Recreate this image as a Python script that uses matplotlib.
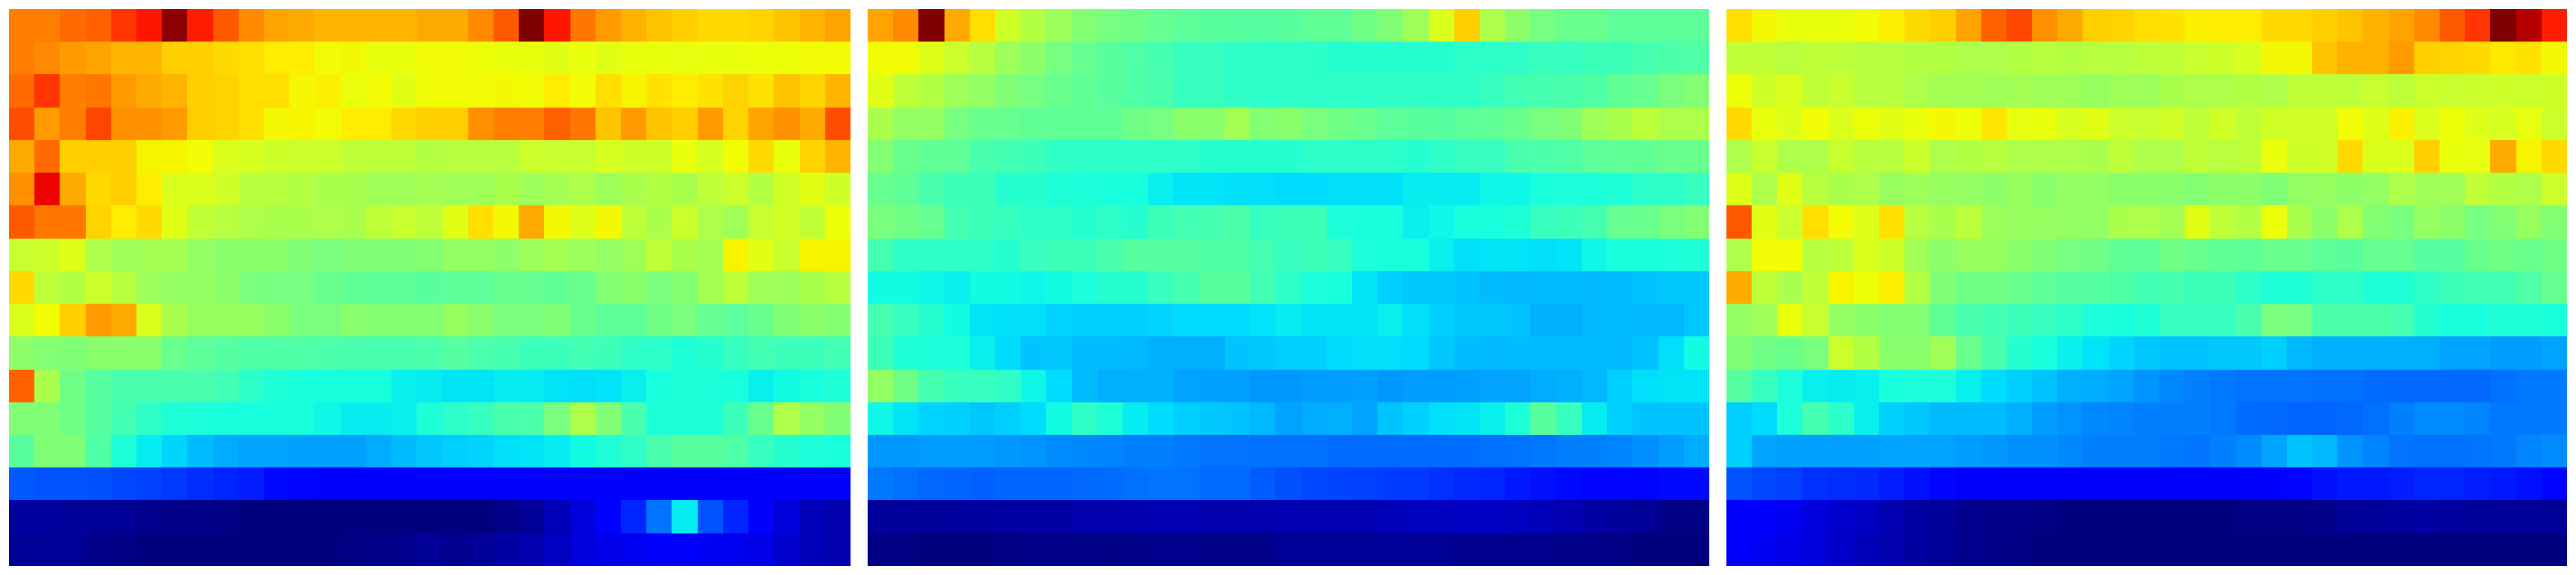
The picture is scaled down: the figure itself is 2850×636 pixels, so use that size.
import numpy as np
import matplotlib
matplotlib.use("Agg")
import matplotlib.pyplot as plt
from matplotlib.colors import FuncNorm

# Values, scaled 0..1 on the jet colormap (17 rows, 33 columns)

panel_left = [
    [.79,.79,.81,.82,.87,.90,.99,.89,.83,.78,.75,.74,.72,.72,.72,.72,.74, .74,.78,.83,1.0,.90,.80,.76,.73,.71,.70,.68,.68,.69,.71,.72,.75],
    [.79,.78,.76,.75,.72,.72,.70,.70,.68,.67,.65,.65,.62,.63,.61,.61,.62, .62,.615,.61,.61,.60,.61,.60,.61,.61,.605,.61,.61,.615,.615,.625,.625],
    [.81,.87,.79,.80,.76,.74,.72,.70,.69,.67,.67,.63,.64,.61,.62,.60,.62, .62,.62,.63,.62,.645,.62,.67,.635,.665,.65,.665,.69,.665,.71,.69,.72],
    [.84,.76,.79,.85,.77,.77,.76,.70,.69,.67,.63,.635,.62,.65,.65,.68,.70, .70,.77,.79,.79,.82,.80,.71,.76,.71,.70,.76,.69,.75,.77,.74,.84],
    [.74,.81,.70,.70,.70,.635,.635,.62,.59,.585,.575,.57,.57,.56,.555,.555,.545, .55,.55,.55,.57,.565,.565,.585,.575,.575,.61,.585,.62,.68,.61,.69,.72],
    [.77,.92,.74,.68,.70,.65,.59,.59,.58,.55,.55,.545,.535,.535,.525,.525,.53, .525,.525,.535,.52,.53,.54,.52,.535,.545,.535,.555,.57,.545,.58,.60,.575],
    [.83,.80,.80,.69,.65,.68,.60,.56,.55,.54,.535,.535,.54,.535,.555,.565,.555, .60,.67,.63,.74,.63,.595,.63,.555,.535,.57,.54,.525,.565,.58,.56,.615],
    [.565,.575,.595,.54,.525,.53,.53,.51,.50,.50,.50,.49,.485,.49,.49,.49,.495, .51,.51,.505,.52,.53,.52,.51,.525,.56,.535,.53,.635,.60,.565,.635,.635],
    [.68,.555,.545,.57,.55,.52,.51,.51,.505,.485,.48,.48,.47,.46,.455,.455,.45, .455,.455,.47,.465,.46,.47,.495,.50,.485,.495,.53,.555,.525,.52,.535,.55],
    [.59,.62,.70,.76,.74,.59,.535,.515,.515,.515,.50,.485,.485,.50,.495,.495,.495, .515,.50,.485,.485,.49,.47,.455,.455,.475,.485,.465,.455,.47,.49,.50,.495],
    [.505,.495,.49,.50,.50,.50,.47,.455,.445,.44,.44,.44,.435,.43,.43,.43,.435, .445,.435,.425,.415,.415,.42,.415,.405,.40,.39,.395,.41,.42,.415,.415,.42],
    [.82,.535,.475,.445,.43,.43,.43,.43,.42,.40,.39,.38,.38,.38,.38,.365,.36, .355,.355,.36,.36,.355,.35,.355,.365,.38,.39,.385,.38,.365,.375,.38,.39],
    [.49,.49,.475,.445,.42,.405,.39,.385,.38,.38,.38,.38,.37,.36,.36,.365,.39, .40,.41,.43,.435,.485,.54,.49,.43,.39,.39,.39,.415,.47,.54,.51,.49],
    [.45,.49,.49,.44,.39,.36,.34,.32,.305,.30,.30,.295,.295,.295,.305,.32,.33, .335,.34,.35,.355,.36,.375,.39,.405,.43,.45,.45,.44,.41,.395,.385,.38],
    [.205,.20,.20,.195,.19,.18,.17,.16,.15,.145,.13,.125,.12,.115,.11,.11,.11, .11,.11,.11,.11,.11,.11,.11,.11,.11,.11,.11,.11,.11,.11,.11,.11],
    [.03,.03,.02,.02,.02,.012,.01,.008,.005,.002,0,0,0,0,0,0,0, 0,.002,.01,.02,.05,.08,.11,.15,.24,.36,.20,.15,.11,.08,.05,.04],
    [.02,.02,.02,.01,.005,.003,0,0,0,0,0,0,.002,.005,.01,.012,.02, .015,.02,.035,.04,.06,.08,.09,.10,.11,.11,.105,.10,.09,.07,.05,.04],
]

panel_middle = [
    [.75,.78,1.0,.74,.67,.58,.545,.52,.495,.48,.475,.465,.455,.45,.445,.445,.45, .46,.46,.475,.49,.525,.59,.70,.54,.505,.48,.47,.47,.455,.455,.455,.455],
    [.625,.625,.595,.57,.55,.52,.505,.48,.465,.45,.44,.425,.41,.41,.405,.40,.40, .40,.395,.395,.395,.395,.395,.40,.40,.405,.41,.41,.415,.415,.425,.435,.44],
    [.60,.555,.545,.52,.51,.49,.48,.47,.46,.45,.44,.43,.41,.41,.405,.40,.40, .40,.40,.40,.405,.405,.405,.405,.41,.42,.425,.43,.44,.46,.465,.485,.495],
    [.535,.51,.51,.48,.47,.465,.46,.46,.46,.46,.475,.48,.50,.50,.53,.495,.50, .485,.475,.47,.455,.45,.445,.455,.46,.47,.485,.49,.525,.535,.555,.54,.54],
    [.495,.47,.46,.46,.43,.42,.415,.405,.40,.40,.40,.40,.40,.395,.395,.395,.395, .40,.40,.40,.40,.395,.405,.41,.41,.43,.435,.44,.455,.46,.46,.47,.47],
    [.465,.46,.43,.415,.415,.395,.395,.39,.385,.38,.38,.365,.355,.355,.35,.35,.345, .345,.35,.35,.35,.36,.36,.36,.37,.37,.38,.385,.385,.39,.40,.40,.41],
    [.485,.475,.465,.42,.415,.41,.40,.40,.395,.40,.395,.415,.42,.425,.435,.41,.415, .415,.385,.38,.38,.365,.37,.38,.38,.39,.41,.415,.425,.465,.47,.485,.495],
    [.42,.405,.405,.405,.40,.395,.41,.415,.415,.43,.445,.445,.445,.44,.44,.42,.41, .415,.41,.385,.38,.38,.365,.35,.355,.355,.35,.355,.37,.38,.38,.385,.39],
    [.375,.375,.37,.365,.375,.375,.37,.375,.385,.395,.395,.41,.425,.45,.45,.42,.40, .385,.38,.355,.335,.33,.33,.325,.32,.315,.32,.32,.315,.32,.325,.33,.33],
    [.425,.41,.395,.375,.355,.35,.35,.34,.335,.335,.335,.34,.345,.345,.345,.355,.36, .355,.355,.355,.365,.35,.335,.33,.33,.325,.31,.31,.315,.32,.315,.315,.33],
    [.415,.39,.385,.385,.365,.345,.325,.33,.32,.32,.315,.31,.31,.31,.325,.33,.335, .335,.345,.35,.35,.345,.33,.32,.315,.32,.32,.32,.32,.315,.325,.35,.375],
    [.51,.475,.425,.41,.41,.405,.37,.345,.32,.31,.31,.31,.30,.295,.295,.285,.285, .29,.29,.295,.285,.29,.29,.295,.30,.30,.305,.31,.315,.335,.35,.355,.355],
    [.37,.355,.34,.335,.33,.335,.345,.375,.405,.39,.36,.345,.335,.33,.325,.315,.30, .305,.31,.30,.325,.335,.35,.355,.365,.39,.45,.41,.36,.335,.325,.325,.325],
    [.285,.285,.29,.29,.29,.285,.28,.27,.265,.26,.255,.25,.245,.24,.24,.235,.235, .235,.23,.23,.23,.23,.23,.23,.235,.24,.245,.25,.25,.26,.275,.29,.305],
    [.245,.235,.225,.22,.215,.22,.22,.22,.225,.23,.235,.24,.24,.23,.23,.21,.195, .19,.185,.18,.175,.17,.165,.155,.15,.14,.135,.13,.125,.125,.125,.13,.13],
    [.025,.025,.025,.03,.03,.035,.035,.035,.04,.04,.04,.045,.045,.04,.04,.04,.045, .045,.045,.045,.05,.055,.055,.06,.06,.055,.05,.045,.035,.025,.02,.005,.005],
    [.005,.005,.003,.003,0,.005,.01,.01,.008,.005,.008,.012,.012,.01,.01,.01,.02, .02,.02,.02,.02,.02,.02,.015,.015,.012,.012,.01,.008,.005,.003,0,0],
]

panel_right = [
    [.67,.63,.61,.61,.61,.625,.64,.68,.70,.75,.82,.85,.77,.74,.70,.69,.675, .665,.64,.65,.65,.68,.68,.70,.71,.73,.75,.78,.83,.87,1.0,.96,.89],
    [.56,.56,.55,.555,.555,.55,.55,.545,.545,.54,.54,.545,.55,.545,.55,.55,.555, .56,.565,.575,.585,.63,.63,.71,.73,.73,.76,.70,.695,.68,.655,.665,.63],
    [.615,.575,.59,.56,.565,.55,.55,.54,.53,.53,.525,.53,.525,.525,.515,.525,.52, .535,.54,.54,.545,.54,.555,.555,.555,.565,.555,.57,.565,.57,.575,.57,.575],
    [.68,.61,.595,.625,.59,.615,.60,.61,.63,.615,.66,.605,.61,.585,.60,.57,.565, .58,.555,.58,.56,.58,.58,.58,.625,.595,.64,.59,.615,.595,.585,.605,.57],
    [.54,.565,.54,.54,.565,.55,.55,.57,.54,.545,.55,.54,.54,.54,.535,.555,.54, .54,.56,.55,.555,.61,.575,.58,.68,.59,.59,.70,.61,.605,.74,.635,.68],
    [.595,.54,.60,.55,.535,.54,.515,.52,.515,.51,.505,.515,.50,.51,.51,.50,.50, .50,.495,.505,.505,.49,.51,.515,.505,.51,.54,.525,.525,.56,.545,.54,.57],
    [.83,.60,.565,.67,.62,.595,.665,.55,.535,.555,.52,.515,.515,.51,.51,.535,.54, .53,.60,.555,.545,.615,.535,.505,.54,.495,.485,.51,.505,.48,.495,.515,.495],
    [.54,.625,.62,.55,.555,.59,.575,.525,.505,.515,.515,.50,.49,.48,.475,.46,.455, .475,.47,.46,.455,.47,.47,.455,.45,.465,.465,.445,.445,.47,.475,.47,.475],
    [.74,.555,.535,.555,.635,.615,.64,.545,.49,.475,.475,.47,.455,.445,.445,.44,.42, .425,.415,.415,.40,.39,.39,.40,.40,.39,.39,.405,.415,.42,.42,.44,.465],
    [.51,.525,.61,.565,.51,.50,.495,.495,.46,.43,.42,.415,.41,.40,.385,.38,.39, .41,.41,.41,.43,.485,.48,.435,.435,.435,.425,.395,.38,.38,.39,.39,.38],
    [.49,.475,.47,.485,.57,.545,.50,.50,.525,.47,.43,.395,.38,.365,.355,.34,.33, .325,.325,.33,.33,.335,.315,.31,.31,.31,.31,.31,.30,.30,.29,.29,.30],
    [.445,.41,.385,.365,.36,.365,.38,.385,.385,.365,.345,.335,.325,.31,.305,.30,.28, .265,.25,.245,.24,.24,.24,.235,.235,.23,.225,.225,.225,.225,.235,.245,.245],
    [.335,.345,.385,.425,.40,.365,.335,.33,.32,.32,.32,.31,.29,.28,.265,.26,.255, .25,.25,.245,.23,.225,.22,.22,.225,.235,.25,.27,.27,.26,.245,.245,.245],
    [.335,.30,.295,.295,.295,.295,.30,.30,.30,.29,.285,.275,.275,.265,.255,.25,.25, .245,.24,.255,.27,.30,.325,.315,.28,.26,.24,.235,.235,.24,.245,.26,.27],
    [.20,.19,.18,.165,.16,.155,.145,.135,.125,.12,.115,.11,.11,.11,.11,.11,.11, .11,.115,.115,.115,.12,.125,.135,.14,.14,.145,.15,.15,.145,.14,.135,.125],
    [.11,.11,.10,.085,.07,.06,.045,.035,.025,.015,.01,.008,.005,.003,.002,0,0, 0,0,0,.005,.005,.005,.01,.02,.025,.03,.035,.03,.025,.02,.02,.02],
    [.11,.105,.09,.08,.065,.05,.04,.03,.02,.012,.01,.005,.002,0,0,0,0, .003,.003,.003,.003,.003,.003,.003,.003,.003,.003,.003,0,0,0,0,0],
]

# My readings drift a little from true jet levels, this pulls the colour scale back
read_levels = [0, .11, .145, .195, .25, .295, .335, .39, .42, .46, .49, .56, .61, .625, .65, .70, .72, .75, .79, .84, .89, .92, 1]
jet_levels = [0, .11, .156, .2035, .25, .282, .329, .39, .43, .467, .505, .585, .634, .644, .66, .69, .715, .735, .775, .825, .875, .905, 1]


def to_jet(v):
    return np.interp(v, read_levels, jet_levels)


def from_jet(v):
    return np.interp(v, jet_levels, read_levels)


def draw_panel(fig, values, left_px):
    # axes position given in pixels of the 2850x636 figure
    ax = fig.add_axes([left_px / 2850, 10 / 636, 930 / 2850, 616 / 636])
    norm = FuncNorm((to_jet, from_jet), vmin=0, vmax=1)
    ax.imshow(np.array(values), cmap="jet", norm=norm,
              aspect="auto", interpolation="nearest")
    ax.axis("off")


def main():
    fig = plt.figure(figsize=(28.5, 6.36), dpi=100)

    draw_panel(fig, panel_left, 10)
    draw_panel(fig, panel_middle, 960)
    draw_panel(fig, panel_right, 1910)

    fig.savefig("out.png", dpi=100)


if __name__ == "__main__":
    main()
